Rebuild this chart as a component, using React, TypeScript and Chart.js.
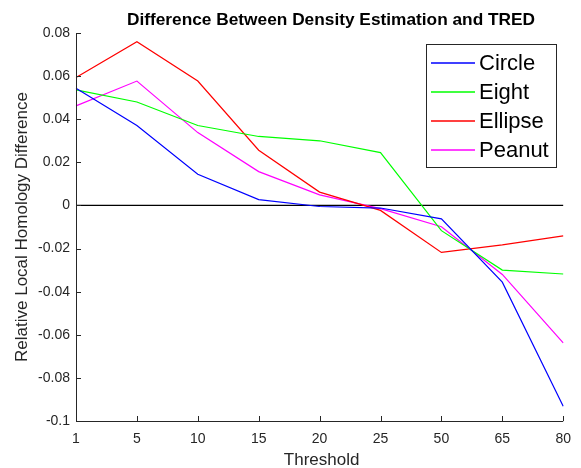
import React, { useEffect, useRef } from "react";
import { Chart, registerables } from "chart.js";

Chart.register(...registerables);

const thresholds = ["1", "5", "10", "15", "20", "25", "50", "65", "80"];
const circle = [0.0544, 0.0371, 0.0145, 0.0027, -0.0005, -0.0012, -0.0062, -0.0356, -0.0932];
const eight = [0.0536, 0.048, 0.0371, 0.032, 0.03, 0.0245, -0.0117, -0.03, -0.0318];
const ellipse = [0.0594, 0.076, 0.0577, 0.0256, 0.0062, -0.0023, -0.0218, -0.0183, -0.0141];
const peanut = [0.0462, 0.0577, 0.0338, 0.0157, 0.0049, -0.0015, -0.0099, -0.032, -0.0638];
const zeroLine = [0, 0, 0, 0, 0, 0, 0, 0, 0];
const seriesNames = ["Circle", "Eight", "Ellipse", "Peanut"];
const seriesColors = ["#0000ff", "#00ff00", "#ff0000", "#ff00ff"];
const yTickValues = [-0.1, -0.08, -0.06, -0.04, -0.02, 0, 0.02, 0.04, 0.06, 0.08];

const titleText = "Difference Between Density Estimation and TRED";
const xLabel = "Threshold";
const yLabel = "Relative Local Homology Difference";

const FONT = '"Liberation Sans", Arial, Helvetica, sans-serif';
const AXIS_COLOR = "#262626";

const decorPlugin = {
  id: "decor",
  afterDraw(chart: any) {
    const ctx = chart.ctx as CanvasRenderingContext2D;
    const area = chart.chartArea;
    const xs = chart.scales.x;
    const ys = chart.scales.y;
    ctx.save();
    // axes
    ctx.strokeStyle = AXIS_COLOR;
    ctx.lineWidth = 1;
    ctx.beginPath();
    ctx.moveTo(Math.round(area.left) + 0.5, area.top);
    ctx.lineTo(Math.round(area.left) + 0.5, Math.round(area.bottom) + 0.5);
    ctx.lineTo(area.right, Math.round(area.bottom) + 0.5);
    ctx.stroke();
    // inward ticks
    ctx.beginPath();
    yTickValues.forEach((v) => {
      const py = Math.round(ys.getPixelForValue(v)) + 0.5;
      ctx.moveTo(area.left, py);
      ctx.lineTo(area.left + 5, py);
    });
    thresholds.forEach((_, i) => {
      const px = Math.round(xs.getPixelForValue(i)) + 0.5;
      ctx.moveTo(px, area.bottom);
      ctx.lineTo(px, area.bottom - 5);
    });
    ctx.stroke();

    // title
    ctx.fillStyle = "#000000";
    ctx.font = `bold 17.3px ${FONT}`;
    ctx.textAlign = "center";
    ctx.textBaseline = "middle";
    ctx.fillText(titleText, 331, 20);

    // x label
    ctx.fillStyle = AXIS_COLOR;
    ctx.font = `17px ${FONT}`;
    ctx.fillText(xLabel, (area.left + area.right) / 2 + 2, 460);

    // y label
    ctx.save();
    ctx.translate(22, (area.top + area.bottom) / 2);
    ctx.rotate(-Math.PI / 2);
    ctx.fillText(yLabel, 0, 0);
    ctx.restore();

    // legend box
    const bx = 426.5, by = 44.5, bw = 130, bh = 123;
    ctx.fillStyle = "#ffffff";
    ctx.fillRect(bx, by, bw, bh);
    ctx.strokeStyle = AXIS_COLOR;
    ctx.lineWidth = 1;
    ctx.strokeRect(bx, by, bw, bh);
    const rows = [63, 92, 121, 150];
    ctx.font = `22px ${FONT}`;
    ctx.textAlign = "left";
    ctx.textBaseline = "middle";
    seriesNames.forEach((name, i) => {
      ctx.strokeStyle = seriesColors[i];
      ctx.lineWidth = 1.3;
      ctx.beginPath();
      ctx.moveTo(431, rows[i]);
      ctx.lineTo(475, rows[i]);
      ctx.stroke();
      ctx.fillStyle = "#000000";
      ctx.fillText(name, 479, rows[i] + 1);
    });
    ctx.restore();
  },
};

export default function App() {
  const ref = useRef<HTMLCanvasElement | null>(null);
  useEffect(() => {
    if (!ref.current) return;
    const seriesData = [circle, eight, ellipse, peanut];
    const datasets: any[] = seriesNames.map((name, i) => ({
      label: name,
      data: seriesData[i],
      borderColor: seriesColors[i],
      backgroundColor: seriesColors[i],
      borderWidth: 1.2,
      pointRadius: 0,
      fill: false,
      tension: 0,
    }));
    datasets.push({
      label: "zero",
      data: zeroLine,
      borderColor: "#000000",
      borderWidth: 1.2,
      pointRadius: 0,
      fill: false,
    });
    const chart = new Chart(ref.current, {
      type: "line",
      data: { labels: thresholds, datasets },
      options: {
        animation: false,
        responsive: false,
        maintainAspectRatio: false,
        layout: { padding: { top: 33, right: 13, left: 0, bottom: 0 } },
        plugins: {
          legend: { display: false },
          title: { display: false },
          tooltip: { enabled: false },
        },
        scales: {
          x: {
            type: "category",
            offset: false,
            grid: { display: false, drawTicks: false },
            border: { display: false },
            ticks: {
              color: AXIS_COLOR,
              font: { family: FONT, size: 14 },
              padding: 10,
              maxRotation: 0,
              autoSkip: false,
            },
            afterFit: (s: any) => {
              s.height = 47;
            },
          },
          y: {
            type: "linear",
            min: -0.1,
            max: 0.08,
            grid: { display: false, drawTicks: false },
            border: { display: false },
            ticks: {
              stepSize: 0.02,
              color: AXIS_COLOR,
              font: { family: FONT, size: 14 },
              padding: 6,
              callback: (v: any) => String(Number(Number(v).toFixed(2))),
            },
            afterFit: (s: any) => {
              s.width = 76;
            },
          },
        },
      },
      plugins: [decorPlugin],
    });
    return () => chart.destroy();
  }, []);
  return (
    <div style={{ position: "absolute", left: 0, top: 0, width: 581, height: 468, background: "#ffffff" }}>
      <canvas ref={ref} width={581} height={468} style={{ display: "block" }} />
    </div>
  );
}
